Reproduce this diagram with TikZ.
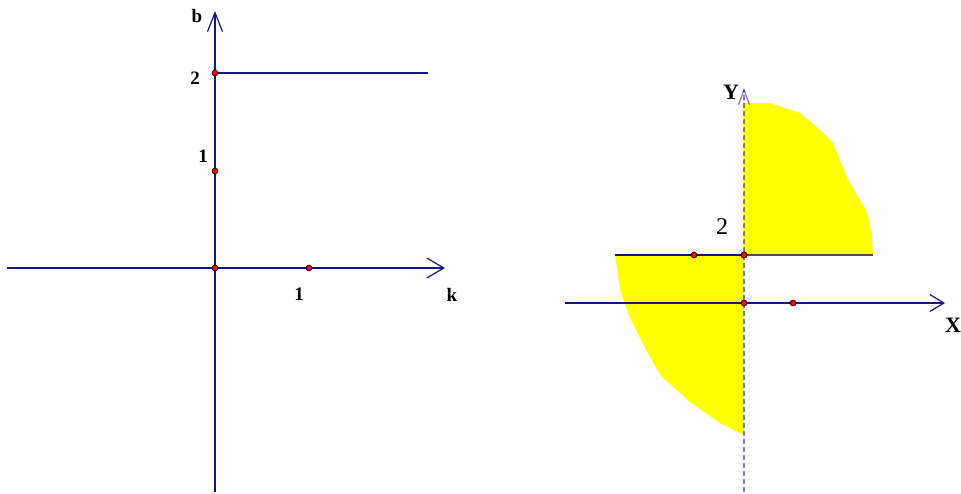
\documentclass[tikz,border=0pt]{standalone}
\usepackage{fontspec}
\setmainfont{Liberation Serif}
\usetikzlibrary{arrows.meta}
\definecolor{axisblue}{RGB}{20,20,140}
\definecolor{fillyellow}{RGB}{255,255,0}
\tikzset{
  axis/.style={draw=axisblue, line width=1.2pt},
  pt/.style={circle, fill=red, draw=black, line width=0.6pt, inner sep=0pt, minimum size=6pt},
  lab/.style={font=\fontsize{19}{19}\selectfont\bfseries, inner sep=0pt},
  labr/.style={font=\fontsize{22}{22}\selectfont\bfseries, inner sep=0pt},
  region/.style={fill=fillyellow, draw=none}
}
\begin{document}
\begin{tikzpicture}[x=1pt, y=-1pt]
\useasboundingbox (0,0) rectangle (961,493);
% ---------- left diagram ----------
\coordinate (kstart) at (7,268);
\coordinate (ktip) at (445,268);
\coordinate (bstart) at (215,492);
\coordinate (btip) at (215,11);
\coordinate (lend) at (428,73);
\draw[axis, -{Straight Barb[length=17pt, width=20pt, line width=1.2pt]}] (kstart) -- (ktip);
\draw[axis, -{Straight Barb[length=19pt, width=15pt, line width=1.2pt]}] (bstart) -- (btip);
\node[pt] (p2) at (215,73) {};
\draw[axis] (p2) -- (lend);
\node[pt] (p1) at (215,171) {};
\node[pt] (O) at (215,268) {};
\node[pt] (k1) at (309,268) {};
\node[lab] (lb) at (197,16) {b};
\node[lab] (l2) at (195,78) {2};
\node[lab] (l1) at (203,156) {1};
\node[lab] (lk1) at (299,294) {1};
\node[lab] (lk) at (452,295) {k};
% ---------- right diagram ----------
\fill[region] (744,255) -- (744,103) -- (770,103) -- (800,113) -- (820,130) -- (833,143)
  -- (847,178) -- (867,212) -- (872,235) -- (873,255) -- cycle;
\fill[region] (744,255) -- (615,255) -- (620,290) -- (630,318) -- (645,348) -- (660,375)
  -- (690,402) -- (720,423) -- (744,435) -- cycle;
\coordinate (Xstart) at (565,303);
\coordinate (Xtip) at (945,303);
\coordinate (Ybot) at (744,492);
\coordinate (Ytip) at (744,88);
\coordinate (Lleft) at (615,255);
\coordinate (Lright) at (873,255);
\draw[axis, -{Straight Barb[length=14pt, width=17pt, line width=1.2pt]}] (Xstart) -- (Xtip);
\node[pt] (Q2) at (744,255) {};
\draw[axis] (Lleft) -- (Q2.center);
\draw[draw=black!70, line width=1.4pt] (Q2.center) -- (Lright);
\draw[draw=axisblue, draw opacity=0.55, line width=1.4pt, dash pattern=on 5pt off 3pt,
  -{Straight Barb[length=15pt, width=11pt, line width=1.2pt]}] (Ybot) -- (Ytip);
\node[pt] (Q1) at (694,255) {};
\node[pt] (Q2b) at (744,255) {};
\node[pt] (QO) at (744,303) {};
\node[pt] (QX) at (793,303) {};
\node[font=\fontsize{24}{24}\selectfont, inner sep=0pt] (r2) at (722,227) {2};
\node[labr] (rY) at (731,92) {Y};
\node[labr] (rX) at (953,325) {X};
\end{tikzpicture}
\end{document}
